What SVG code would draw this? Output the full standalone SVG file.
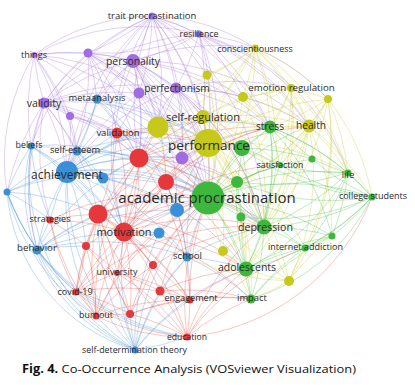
<svg xmlns="http://www.w3.org/2000/svg" width="415" height="385" viewBox="0 0 415 385">
<style>
.e path{fill:none;stroke-width:.8;stroke-opacity:.42}
.ep{stroke:#a674e0}.eb{stroke:#4a94dc}.er{stroke:#ec5548}.ey{stroke:#cccc2a}.eg{stroke:#4cc04c}
.p{fill:#a06de0}.b{fill:#3a8fd9}.r{fill:#e5383b}.y{fill:#c6c91a}.g{fill:#3db83d}
text{font-family:"Open Sans","Noto Sans",sans-serif;fill:#2a2a2a;text-anchor:middle}
.cap{text-anchor:start;fill:#111}
</style>
<rect width="415" height="385" fill="#fff"/>
<g id="connectors" class="e">
<g class="ep">
<path d="M152 16A250 250 0 0 1 88 53"/><path d="M152 16A250 250 0 0 1 133 61"/><path d="M44 103A250 250 0 0 1 152 16"/><path d="M152 16A250 250 0 0 1 176 88"/><path d="M152 16A250 250 0 0 1 139 93"/><path d="M152 16A250 250 0 0 1 158 127"/><path d="M152 16A250 250 0 0 1 208 143"/><path d="M139 158A250 250 0 0 1 152 16"/><path d="M67 172A250 250 0 0 1 152 16"/><path d="M152 16A250 250 0 0 1 208 198"/><path d="M152 16A250 250 0 0 1 182 158"/><path d="M152 16A250 250 0 0 1 199 34"/><path d="M152 16A200 200 0 0 1 255 48"/><path d="M152 16A250 250 0 0 1 207 75"/><path d="M124 232A250 250 0 0 1 152 16"/><path d="M152 16A250 250 0 0 1 264 227"/><path d="M152 16A250 250 0 0 1 270 127"/><path d="M97 99A250 250 0 0 1 152 16"/><path d="M31 146A220 220 0 0 1 152 16"/><path d="M34 55A200 200 0 0 1 152 16"/><path d="M152 16A300 300 0 0 1 309 126"/>
<path d="M199 34A250 250 0 0 1 133 61"/><path d="M199 34A250 250 0 0 1 88 53"/><path d="M44 103A250 250 0 0 1 199 34"/><path d="M199 34A250 250 0 0 1 176 88"/><path d="M199 34A250 250 0 0 1 208 143"/><path d="M199 34A250 250 0 0 1 208 198"/><path d="M199 34A250 250 0 0 1 270 127"/><path d="M199 34A250 250 0 0 1 309 126"/><path d="M199 34A250 250 0 0 1 203 117"/><path d="M199 34A250 250 0 0 1 243 97"/><path d="M199 34A250 250 0 0 1 291 88"/><path d="M34 55A220 220 0 0 1 199 34"/><path d="M199 34A200 200 0 0 1 328 99"/><path d="M199 34A220 220 0 0 1 348 173"/>
<path d="M34 55A250 250 0 0 1 88 53"/><path d="M34 55A250 250 0 0 1 133 61"/><path d="M44 103A250 250 0 0 1 34 55"/><path d="M34 55A250 250 0 0 1 70 116"/><path d="M34 55A250 250 0 0 1 67 172"/><path d="M31 146A250 250 0 0 1 34 55"/><path d="M34 55A250 250 0 0 1 77 151"/><path d="M34 55A250 250 0 0 1 139 158"/><path d="M34 55A250 250 0 0 1 208 198"/><path d="M34 55A250 250 0 0 1 208 143"/><path d="M7 192A200 200 0 0 1 34 55"/>
<path d="M88 53A250 250 0 0 1 133 61"/><path d="M44 103A250 250 0 0 1 88 53"/><path d="M88 53A250 250 0 0 1 139 93"/><path d="M88 53A250 250 0 0 1 97 99"/><path d="M88 53A250 250 0 0 1 67 172"/><path d="M88 53A250 250 0 0 1 208 198"/><path d="M88 53A250 250 0 0 1 208 143"/><path d="M88 53A250 250 0 0 1 158 127"/><path d="M88 53A250 250 0 0 1 139 158"/><path d="M88 53A250 250 0 0 1 117 133"/>
<path d="M44 103A250 250 0 0 1 133 61"/><path d="M133 61A250 250 0 0 1 176 88"/><path d="M133 61A250 250 0 0 1 139 93"/><path d="M133 61A250 250 0 0 1 203 117"/><path d="M133 61A250 250 0 0 1 158 127"/><path d="M133 61A250 250 0 0 1 208 143"/><path d="M133 61A250 250 0 0 1 208 198"/><path d="M133 61A250 250 0 0 1 139 158"/><path d="M67 172A250 250 0 0 1 133 61"/><path d="M124 232A250 250 0 0 1 133 61"/><path d="M133 61A250 250 0 0 1 270 127"/><path d="M133 61A250 250 0 0 1 309 126"/><path d="M133 61A250 250 0 0 1 264 227"/><path d="M133 61A250 250 0 0 1 243 97"/><path d="M133 61A250 250 0 0 1 255 48"/><path d="M133 61A250 250 0 0 1 182 158"/><path d="M133 61A250 250 0 0 1 177 210"/><path d="M97 99A250 250 0 0 1 133 61"/><path d="M133 61A250 250 0 0 1 166 182"/>
<path d="M176 88A250 250 0 0 1 203 117"/><path d="M176 88A250 250 0 0 1 158 127"/><path d="M176 88A250 250 0 0 1 208 143"/><path d="M176 88A250 250 0 0 1 208 198"/><path d="M176 88A250 250 0 0 1 270 127"/><path d="M176 88A250 250 0 0 1 242 148"/><path d="M176 88A250 250 0 0 1 264 227"/><path d="M176 88A250 250 0 0 1 291 88"/><path d="M176 88A250 250 0 0 1 243 97"/><path d="M139 158A250 250 0 0 1 176 88"/><path d="M67 172A250 250 0 0 1 176 88"/><path d="M44 103A250 250 0 0 1 176 88"/><path d="M176 88A250 250 0 0 1 309 126"/><path d="M176 88A250 250 0 0 1 182 158"/>
<path d="M44 103A250 250 0 0 1 139 93"/><path d="M139 93A250 250 0 0 1 158 127"/><path d="M139 93A250 250 0 0 1 208 143"/><path d="M139 93A250 250 0 0 1 208 198"/><path d="M139 93A250 250 0 0 1 139 158"/><path d="M67 172A250 250 0 0 1 139 93"/><path d="M139 93A250 250 0 0 1 117 133"/>
<path d="M44 103A250 250 0 0 1 70 116"/><path d="M44 103A250 250 0 0 1 97 99"/><path d="M31 146A250 250 0 0 1 44 103"/><path d="M44 103A250 250 0 0 1 77 151"/><path d="M44 103A250 250 0 0 1 67 172"/><path d="M44 103A250 250 0 0 1 139 158"/><path d="M44 103A250 250 0 0 1 208 198"/><path d="M44 103A250 250 0 0 1 208 143"/><path d="M44 103A250 250 0 0 1 117 133"/><path d="M7 192A250 250 0 0 1 44 103"/><path d="M37 250A250 250 0 0 1 44 103"/><path d="M44 103A250 250 0 0 1 98 214"/><path d="M50 220A250 250 0 0 1 44 103"/>
<path d="M70 116A250 250 0 0 1 67 172"/><path d="M70 116A250 250 0 0 1 139 158"/><path d="M70 116A250 250 0 0 1 117 133"/><path d="M70 116A250 250 0 0 1 208 198"/><path d="M70 116A250 250 0 0 1 77 151"/>
<path d="M182 158A250 250 0 0 1 208 198"/><path d="M182 158A250 250 0 0 1 208 143"/><path d="M139 158A250 250 0 0 1 182 158"/><path d="M182 158A250 250 0 0 1 166 182"/><path d="M182 158A250 250 0 0 1 237 182"/><path d="M182 158A250 250 0 0 1 270 127"/><path d="M182 158A250 250 0 0 1 264 227"/>
</g>
<g class="eb">
<path d="M31 146A250 250 0 0 1 67 172"/><path d="M31 146A250 250 0 0 1 77 151"/><path d="M7 192A250 250 0 0 1 31 146"/><path d="M37 250A250 250 0 0 1 31 146"/><path d="M50 220A250 250 0 0 1 31 146"/><path d="M31 146A250 250 0 0 1 98 214"/><path d="M31 146A250 250 0 0 1 208 198"/><path d="M31 146A250 250 0 0 1 124 232"/><path d="M135 350A200 200 0 0 1 31 146"/><path d="M135 350A170 170 0 0 1 31 146"/>
<path d="M7 192A250 250 0 0 1 67 172"/><path d="M37 250A250 250 0 0 1 7 192"/><path d="M7 192A250 250 0 0 1 50 220"/><path d="M7 192A250 250 0 0 1 98 214"/><path d="M135 350A180 180 0 0 1 7 192"/><path d="M7 192A250 250 0 0 1 208 198"/><path d="M7 192A250 250 0 0 1 77 151"/><path d="M76 292A250 250 0 0 1 7 192"/><path d="M187 337A220 220 0 0 1 7 192"/><path d="M96 316A200 200 0 0 1 7 192"/>
<path d="M67 172A250 250 0 0 1 208 198"/><path d="M67 172A250 250 0 0 1 208 143"/><path d="M67 172A250 250 0 0 1 158 127"/><path d="M67 172A250 250 0 0 1 139 158"/><path d="M67 172A250 250 0 0 1 98 214"/><path d="M67 172A250 250 0 0 1 124 232"/><path d="M67 172A250 250 0 0 1 103 178"/><path d="M67 172A250 250 0 0 1 177 210"/><path d="M67 172A250 250 0 0 1 187 257"/><path d="M37 250A250 250 0 0 1 67 172"/><path d="M50 220A250 250 0 0 1 67 172"/><path d="M67 172A250 250 0 0 1 86 246"/><path d="M67 172A250 250 0 0 1 77 151"/><path d="M97 99A250 250 0 0 1 67 172"/><path d="M67 172A250 250 0 0 1 117 133"/><path d="M67 172A250 250 0 0 1 264 227"/><path d="M67 172A250 250 0 0 1 246 269"/><path d="M67 172A250 250 0 0 1 270 127"/><path d="M67 172A250 250 0 0 1 182 158"/><path d="M135 350A250 250 0 0 1 67 172"/><path d="M96 316A250 250 0 0 1 67 172"/><path d="M67 172A250 250 0 0 1 203 117"/>
<path d="M77 151A250 250 0 0 1 208 198"/><path d="M77 151A250 250 0 0 1 208 143"/><path d="M77 151A250 250 0 0 1 139 158"/><path d="M77 151A250 250 0 0 1 264 227"/><path d="M77 151A250 250 0 0 1 103 178"/><path d="M77 151A250 250 0 0 1 124 232"/>
<path d="M97 99A250 250 0 0 1 208 198"/><path d="M97 99A250 250 0 0 1 208 143"/><path d="M97 99A250 250 0 0 1 158 127"/><path d="M97 99A250 250 0 0 1 139 158"/><path d="M97 99A250 250 0 0 1 177 210"/><path d="M97 99A250 250 0 0 1 77 151"/>
<path d="M37 250A250 250 0 0 1 98 214"/><path d="M37 250A250 250 0 0 1 124 232"/><path d="M37 250A250 250 0 0 1 208 198"/><path d="M135 350A200 200 0 0 1 37 250"/><path d="M37 250A250 250 0 0 1 50 220"/><path d="M76 292A250 250 0 0 1 37 250"/><path d="M37 250A250 250 0 0 1 86 246"/><path d="M37 250A250 250 0 0 1 187 257"/><path d="M37 250A250 250 0 0 1 177 210"/><path d="M187 337A250 250 0 0 1 37 250"/><path d="M96 316A250 250 0 0 1 37 250"/><path d="M37 250A250 250 0 0 1 139 158"/>
<path d="M187 337A250 250 0 0 1 135 350"/><path d="M135 350A250 250 0 0 1 124 232"/><path d="M135 350A250 250 0 0 1 160 291"/><path d="M135 350A250 250 0 0 1 190 300"/><path d="M135 350A250 250 0 0 1 130 314"/><path d="M135 350A250 250 0 0 1 96 316"/><path d="M135 350A250 250 0 0 1 159 233"/><path d="M135 350A250 250 0 0 1 187 257"/><path d="M135 350A250 250 0 0 1 208 198"/><path d="M135 350A250 250 0 0 1 117 273"/><path d="M135 350A250 250 0 0 1 98 214"/><path d="M135 350A250 250 0 0 1 246 269"/>
<path d="M177 210A250 250 0 0 1 208 198"/><path d="M177 210A250 250 0 0 1 208 143"/><path d="M177 210A250 250 0 0 1 187 257"/><path d="M124 232A250 250 0 0 1 177 210"/><path d="M177 210A250 250 0 0 1 166 182"/>
<path d="M159 233A250 250 0 0 1 208 198"/><path d="M159 233A250 250 0 0 1 187 257"/><path d="M124 232A250 250 0 0 1 159 233"/>
<path d="M187 257A250 250 0 0 1 208 198"/><path d="M187 257A250 250 0 0 1 246 269"/><path d="M187 257A250 250 0 0 1 264 227"/><path d="M187 257A250 250 0 0 1 208 143"/><path d="M160 291A250 250 0 0 1 187 257"/><path d="M187 257A250 250 0 0 1 190 300"/><path d="M187 257A250 250 0 0 1 251 299"/>
<path d="M103 178A250 250 0 0 1 208 198"/><path d="M103 178A250 250 0 0 1 139 158"/><path d="M103 178A250 250 0 0 1 124 232"/>
</g>
<g class="er">
<path d="M117 133A250 250 0 0 1 208 198"/><path d="M117 133A250 250 0 0 1 208 143"/><path d="M117 133A250 250 0 0 1 139 158"/><path d="M117 133A250 250 0 0 1 158 127"/><path d="M117 133A250 250 0 0 1 124 232"/><path d="M117 133A250 250 0 0 1 98 214"/>
<path d="M139 158A250 250 0 0 1 208 198"/><path d="M139 158A250 250 0 0 1 208 143"/><path d="M139 158A250 250 0 0 1 158 127"/><path d="M139 158A250 250 0 0 1 203 117"/><path d="M139 158A250 250 0 0 1 166 182"/><path d="M139 158A250 250 0 0 1 124 232"/><path d="M139 158A250 250 0 0 1 98 214"/><path d="M139 158A250 250 0 0 1 264 227"/><path d="M139 158A250 250 0 0 1 270 127"/><path d="M139 158A250 250 0 0 1 237 182"/><path d="M139 158A250 250 0 0 1 190 300"/><path d="M139 158A250 250 0 0 1 117 273"/><path d="M96 316A250 250 0 0 1 139 158"/><path d="M76 292A250 250 0 0 1 139 158"/>
<path d="M166 182A250 250 0 0 1 208 198"/><path d="M166 182A250 250 0 0 1 208 143"/><path d="M166 182A250 250 0 0 1 124 232"/><path d="M166 182A250 250 0 0 1 98 214"/><path d="M166 182A250 250 0 0 1 246 269"/><path d="M166 182A250 250 0 0 1 264 227"/><path d="M166 182A250 250 0 0 1 270 127"/><path d="M166 182A250 250 0 0 1 187 257"/>
<path d="M98 214A250 250 0 0 1 208 198"/><path d="M98 214A250 250 0 0 1 124 232"/><path d="M50 220A250 250 0 0 1 98 214"/><path d="M98 214A250 250 0 0 1 86 246"/><path d="M76 292A250 250 0 0 1 98 214"/><path d="M98 214A250 250 0 0 1 117 273"/><path d="M96 316A250 250 0 0 1 98 214"/><path d="M98 214A250 250 0 0 1 153 265"/><path d="M98 214A250 250 0 0 1 208 143"/><path d="M98 214A250 250 0 0 1 246 269"/><path d="M98 214A250 250 0 0 1 190 300"/><path d="M187 337A250 250 0 0 1 98 214"/><path d="M130 314A250 250 0 0 1 98 214"/>
<path d="M124 232A250 250 0 0 1 208 198"/><path d="M124 232A250 250 0 0 1 208 143"/><path d="M124 232A250 250 0 0 1 158 127"/><path d="M124 232A250 250 0 0 1 203 117"/><path d="M124 232A250 250 0 0 1 153 265"/><path d="M124 232A250 250 0 0 1 117 273"/><path d="M124 232A250 250 0 0 1 190 300"/><path d="M124 232A250 250 0 0 1 187 337"/><path d="M76 292A250 250 0 0 1 124 232"/><path d="M96 316A250 250 0 0 1 124 232"/><path d="M124 232A250 250 0 0 1 130 314"/><path d="M124 232A250 250 0 0 1 160 291"/><path d="M124 232A250 250 0 0 1 246 269"/><path d="M124 232A250 250 0 0 1 264 227"/><path d="M124 232A250 250 0 0 1 251 299"/><path d="M124 232A250 250 0 0 1 270 127"/><path d="M124 232A250 250 0 0 1 280 165"/><path d="M124 232A250 250 0 0 1 309 126"/>
<path d="M50 220A250 250 0 0 1 124 232"/><path d="M50 220A250 250 0 0 1 86 246"/><path d="M76 292A250 250 0 0 1 50 220"/><path d="M50 220A250 250 0 0 1 208 198"/><path d="M96 316A250 250 0 0 1 50 220"/>
<path d="M86 246A250 250 0 0 1 76 292"/><path d="M86 246A250 250 0 0 1 117 273"/><path d="M86 246A250 250 0 0 1 96 316"/><path d="M86 246A250 250 0 0 1 130 314"/><path d="M86 246A250 250 0 0 1 208 198"/>
<path d="M76 292A250 250 0 0 1 117 273"/><path d="M117 273A250 250 0 0 1 96 316"/><path d="M117 273A250 250 0 0 1 130 314"/><path d="M117 273A250 250 0 0 1 160 291"/><path d="M117 273A250 250 0 0 1 190 300"/><path d="M117 273A250 250 0 0 1 208 198"/><path d="M117 273A250 250 0 0 1 187 337"/>
<path d="M76 292A250 250 0 0 1 96 316"/><path d="M76 292A250 250 0 0 1 130 314"/><path d="M187 337A200 200 0 0 1 76 292"/><path d="M76 292A250 250 0 0 1 208 198"/><path d="M76 292A250 250 0 0 1 160 291"/><path d="M76 292A250 250 0 0 1 264 227"/>
<path d="M160 291A250 250 0 0 1 190 300"/><path d="M160 291A250 250 0 0 1 187 337"/><path d="M160 291A250 250 0 0 1 208 198"/><path d="M160 291A250 250 0 0 1 246 269"/><path d="M160 291A250 250 0 0 1 251 299"/>
<path d="M190 300A250 250 0 0 1 208 198"/><path d="M190 300A250 250 0 0 1 246 269"/><path d="M190 300A250 250 0 0 1 251 299"/><path d="M190 300A250 250 0 0 1 187 337"/><path d="M130 314A250 250 0 0 1 190 300"/><path d="M96 316A250 250 0 0 1 190 300"/>
<path d="M96 316A250 250 0 0 1 130 314"/><path d="M187 337A200 200 0 0 1 96 316"/><path d="M96 316A250 250 0 0 1 208 198"/><path d="M96 316A250 250 0 0 1 264 227"/>
<path d="M130 314A250 250 0 0 1 187 337"/><path d="M130 314A250 250 0 0 1 208 198"/><path d="M130 314A250 250 0 0 1 251 299"/>
<path d="M187 337A250 250 0 0 1 208 198"/><path d="M187 337A250 250 0 0 1 246 269"/><path d="M187 337A250 250 0 0 1 251 299"/><path d="M187 337A250 250 0 0 1 264 227"/><path d="M372 197A220 220 0 0 1 187 337"/><path d="M187 337A250 250 0 0 1 305 248"/>
<path d="M153 265A250 250 0 0 1 208 198"/><path d="M153 265A250 250 0 0 1 190 300"/><path d="M153 265A250 250 0 0 1 130 314"/>
</g>
<g class="ey">
<path d="M158 127A250 250 0 0 1 208 143"/><path d="M158 127A250 250 0 0 1 208 198"/><path d="M158 127A250 250 0 0 1 203 117"/><path d="M158 127A250 250 0 0 1 270 127"/><path d="M158 127A250 250 0 0 1 242 148"/><path d="M158 127A250 250 0 0 1 166 182"/>
<path d="M203 117A250 250 0 0 1 208 143"/><path d="M203 117A250 250 0 0 1 208 198"/><path d="M203 117A250 250 0 0 1 270 127"/><path d="M203 117A250 250 0 0 1 309 126"/><path d="M203 117A250 250 0 0 1 242 148"/><path d="M203 117A250 250 0 0 1 264 227"/><path d="M203 117A250 250 0 0 1 291 88"/><path d="M203 117A250 250 0 0 1 243 97"/><path d="M203 117A250 250 0 0 1 207 75"/><path d="M203 117A250 250 0 0 1 166 182"/><path d="M203 117A250 250 0 0 1 246 269"/><path d="M203 117A250 250 0 0 1 280 165"/>
<path d="M208 143A250 250 0 0 1 208 198"/><path d="M208 143A250 250 0 0 1 270 127"/><path d="M208 143A250 250 0 0 1 309 126"/><path d="M208 143A250 250 0 0 1 291 88"/><path d="M208 143A250 250 0 0 1 255 48"/><path d="M208 143A250 250 0 0 1 243 97"/><path d="M208 143A250 250 0 0 1 328 99"/><path d="M208 143A250 250 0 0 1 242 148"/><path d="M208 143A250 250 0 0 1 237 182"/><path d="M208 143A250 250 0 0 1 264 227"/><path d="M208 143A250 250 0 0 1 280 165"/><path d="M208 143A250 250 0 0 1 246 269"/><path d="M208 143A250 250 0 0 1 223 251"/><path d="M208 143A250 250 0 0 1 289 281"/><path d="M208 143A250 250 0 0 1 348 173"/><path d="M208 143A250 250 0 0 1 251 299"/><path d="M208 143A250 250 0 0 1 305 248"/>
<path d="M255 48A250 250 0 0 1 207 75"/><path d="M255 48A250 250 0 0 1 243 97"/><path d="M255 48A250 250 0 0 1 291 88"/><path d="M255 48A250 250 0 0 1 309 126"/><path d="M255 48A250 250 0 0 1 270 127"/><path d="M255 48A250 250 0 0 1 203 117"/><path d="M255 48A250 250 0 0 1 208 198"/><path d="M255 48A200 200 0 0 1 328 99"/><path d="M255 48A250 250 0 0 1 264 227"/><path d="M255 48A220 220 0 0 1 348 173"/><path d="M255 48A250 250 0 0 1 176 88"/><path d="M255 48A250 250 0 0 1 158 127"/>
<path d="M291 88A250 250 0 0 1 243 97"/><path d="M291 88A250 250 0 0 1 328 99"/><path d="M291 88A250 250 0 0 1 309 126"/><path d="M291 88A250 250 0 0 1 270 127"/><path d="M291 88A250 250 0 0 1 208 198"/><path d="M291 88A250 250 0 0 1 264 227"/><path d="M291 88A250 250 0 0 1 280 165"/><path d="M291 88A250 250 0 0 1 246 269"/><path d="M291 88A250 250 0 0 1 348 173"/>
<path d="M328 99A250 250 0 0 1 309 126"/><path d="M328 99A250 250 0 0 1 270 127"/><path d="M328 99A250 250 0 0 1 208 198"/><path d="M328 99A250 250 0 0 1 264 227"/><path d="M328 99A250 250 0 0 1 348 173"/><path d="M328 99A220 220 0 0 1 372 197"/><path d="M328 99A250 250 0 0 1 305 248"/><path d="M328 99A250 250 0 0 1 289 281"/><path d="M328 99A250 250 0 0 1 280 165"/>
<path d="M309 126A250 250 0 0 1 270 127"/><path d="M309 126A250 250 0 0 1 208 198"/><path d="M309 126A250 250 0 0 1 264 227"/><path d="M309 126A250 250 0 0 1 280 165"/><path d="M309 126A250 250 0 0 1 348 173"/><path d="M309 126A250 250 0 0 1 332 236"/><path d="M309 126A250 250 0 0 1 246 269"/><path d="M309 126A250 250 0 0 1 289 281"/><path d="M309 126A250 250 0 0 1 372 197"/><path d="M309 126A250 250 0 0 1 223 251"/>
<path d="M243 97A250 250 0 0 1 208 198"/><path d="M243 97A250 250 0 0 1 270 127"/><path d="M243 97A250 250 0 0 1 309 126"/><path d="M243 97A250 250 0 0 1 264 227"/>
<path d="M207 75A250 250 0 0 1 208 198"/><path d="M207 75A250 250 0 0 1 208 143"/><path d="M207 75A250 250 0 0 1 270 127"/>
<path d="M223 251A250 250 0 0 1 208 198"/><path d="M223 251A250 250 0 0 1 246 269"/><path d="M223 251A250 250 0 0 1 251 299"/><path d="M223 251A250 250 0 0 1 264 227"/>
<path d="M289 281A250 250 0 0 1 246 269"/><path d="M289 281A250 250 0 0 1 264 227"/><path d="M289 281A250 250 0 0 1 251 299"/><path d="M289 281A250 250 0 0 1 208 198"/><path d="M289 281A250 250 0 0 1 305 248"/><path d="M289 281A250 250 0 0 1 332 236"/><path d="M289 281A250 250 0 0 1 187 257"/>
</g>
<g class="eg">
<path d="M208 198A250 250 0 0 1 242 148"/><path d="M208 198A250 250 0 0 1 270 127"/><path d="M208 198A250 250 0 0 1 237 182"/><path d="M208 198A250 250 0 0 1 241 217"/><path d="M208 198A250 250 0 0 1 264 227"/><path d="M208 198A250 250 0 0 1 246 269"/><path d="M208 198A250 250 0 0 1 251 299"/><path d="M208 198A250 250 0 0 1 348 173"/><path d="M208 198A250 250 0 0 1 372 197"/><path d="M208 198A250 250 0 0 1 280 165"/><path d="M208 198A250 250 0 0 1 305 248"/><path d="M208 198A250 250 0 0 1 332 236"/><path d="M208 198A250 250 0 0 1 309 126"/><path d="M208 198A250 250 0 0 1 312 159"/>
<path d="M270 127A250 250 0 0 1 242 148"/><path d="M270 127A250 250 0 0 1 264 227"/><path d="M270 127A250 250 0 0 1 280 165"/><path d="M270 127A250 250 0 0 1 348 173"/><path d="M270 127A250 250 0 0 1 372 197"/><path d="M270 127A250 250 0 0 1 332 236"/><path d="M270 127A250 250 0 0 1 246 269"/><path d="M270 127A250 250 0 0 1 312 159"/>
<path d="M348 173A250 250 0 0 1 372 197"/><path d="M348 173A250 250 0 0 1 264 227"/><path d="M348 173A250 250 0 0 1 280 165"/><path d="M348 173A250 250 0 0 1 332 236"/><path d="M348 173A250 250 0 0 1 246 269"/><path d="M348 173A250 250 0 0 1 237 182"/><path d="M348 173A250 250 0 0 1 305 248"/><path d="M348 173A250 250 0 0 1 312 159"/>
<path d="M372 197A250 250 0 0 1 264 227"/><path d="M372 197A250 250 0 0 1 332 236"/><path d="M372 197A250 250 0 0 1 305 248"/><path d="M372 197A250 250 0 0 1 246 269"/><path d="M372 197A250 250 0 0 1 237 182"/><path d="M372 197A250 250 0 0 1 241 217"/><path d="M372 197A250 250 0 0 1 280 165"/><path d="M372 197A200 200 0 0 1 251 299"/><path d="M372 197A250 250 0 0 1 312 159"/><path d="M372 197A250 250 0 0 1 242 148"/>
<path d="M264 227A250 250 0 0 1 246 269"/><path d="M264 227A250 250 0 0 1 251 299"/><path d="M264 227A250 250 0 0 1 332 236"/><path d="M264 227A250 250 0 0 1 305 248"/><path d="M264 227A250 250 0 0 1 241 217"/><path d="M264 227A250 250 0 0 1 237 182"/><path d="M264 227A250 250 0 0 1 280 165"/><path d="M264 227A250 250 0 0 1 242 148"/>
<path d="M246 269A250 250 0 0 1 251 299"/><path d="M246 269A250 250 0 0 1 305 248"/><path d="M246 269A250 250 0 0 1 332 236"/><path d="M246 269A250 250 0 0 1 241 217"/><path d="M246 269A250 250 0 0 1 237 182"/>
<path d="M251 299A250 250 0 0 1 305 248"/><path d="M251 299A250 250 0 0 1 332 236"/><path d="M305 248A250 250 0 0 1 332 236"/>
<path d="M242 148A250 250 0 0 1 237 182"/><path d="M242 148A250 250 0 0 1 280 165"/><path d="M242 148A250 250 0 0 1 312 159"/><path d="M237 182A250 250 0 0 1 241 217"/><path d="M237 182A250 250 0 0 1 280 165"/>
</g>
</g>
<g id="nodes">
<g id="n-u1"><circle class="p" cx="88" cy="53" r="4.5"/></g>
<g id="n-u2"><circle class="p" cx="139" cy="93" r="5.5"/></g>
<g id="n-u3"><circle class="p" cx="70" cy="116" r="4"/></g>
<g id="n-u4"><circle class="p" cx="182" cy="158" r="6.5"/></g>
<g id="n-u5"><circle class="b" cx="103" cy="178" r="5.5"/></g>
<g id="n-u6"><circle class="b" cx="7" cy="192" r="3.5"/></g>
<g id="n-u7"><circle class="b" cx="177" cy="210" r="7"/></g>
<g id="n-u8"><circle class="b" cx="159" cy="233" r="5.5"/></g>
<g id="n-u9"><circle class="r" cx="139" cy="158" r="9.5"/></g>
<g id="n-u10"><circle class="r" cx="166" cy="182" r="8"/></g>
<g id="n-u11"><circle class="r" cx="98" cy="214" r="9.5"/></g>
<g id="n-u12"><circle class="r" cx="86" cy="246" r="4"/></g>
<g id="n-u13"><circle class="r" cx="153" cy="265" r="4"/></g>
<g id="n-u14"><circle class="r" cx="160" cy="291" r="4.5"/></g>
<g id="n-u15"><circle class="r" cx="130" cy="314" r="4"/></g>
<g id="n-u16"><circle class="y" cx="207" cy="75" r="4.5"/></g>
<g id="n-u17"><circle class="y" cx="243" cy="97" r="5"/></g>
<g id="n-u18"><circle class="y" cx="328" cy="99" r="4"/></g>
<g id="n-u19"><circle class="y" cx="158" cy="127" r="10.5"/></g>
<g id="n-u20"><circle class="y" cx="223" cy="251" r="5"/></g>
<g id="n-u21"><circle class="y" cx="289" cy="281" r="5"/></g>
<g id="n-u22"><circle class="g" cx="242" cy="148" r="8"/></g>
<g id="n-u23"><circle class="g" cx="312" cy="159" r="3.5"/></g>
<g id="n-u24"><circle class="g" cx="237" cy="182" r="6"/></g>
<g id="n-u25"><circle class="g" cx="241" cy="217" r="4.5"/></g>
<g id="n-u26"><circle class="g" cx="332" cy="236" r="3.5"/></g>
<g id="n-trait-procrastination"><circle class="p" cx="152" cy="16" r="3.5"/><text x="152" y="19.3" font-size="9.5">trait procrastination</text></g>
<g id="n-resilience"><circle class="p" cx="199" cy="34" r="3.5"/><text x="199" y="37.1" font-size="8.8">resilience</text></g>
<g id="n-things"><circle class="p" cx="34" cy="55" r="3"/><text x="34" y="58.2" font-size="9.1">things</text></g>
<g id="n-personality"><circle class="p" cx="133" cy="61" r="7"/><text x="133" y="64.6" font-size="10.4">personality</text></g>
<g id="n-perfectionism"><circle class="p" cx="176" cy="88" r="5.5"/><text x="177" y="91.6" font-size="10.2">perfectionism</text></g>
<g id="n-validity"><circle class="p" cx="44" cy="103" r="5.5"/><text x="44" y="106.7" font-size="10.5">validity</text></g>
<g id="n-metaanalysis"><circle class="b" cx="97" cy="99" r="4.5"/><text x="97" y="101.3" font-size="9.4">metaanalysis</text></g>
<g id="n-beliefs"><circle class="b" cx="31" cy="146" r="3.5"/><text x="29" y="148.1" font-size="8.8">beliefs</text></g>
<g id="n-self-esteem"><circle class="b" cx="77" cy="151" r="4.5"/><text x="75" y="153.3" font-size="9.3">self-esteem</text></g>
<g id="n-behavior"><circle class="b" cx="37" cy="250" r="4.5"/><text x="37" y="251.4" font-size="9.7">behavior</text></g>
<g id="n-school"><circle class="b" cx="187" cy="257" r="4.5"/><text x="187.5" y="259.4" font-size="9.6">school</text></g>
<g id="n-self-determination-theory"><circle class="b" cx="135" cy="350" r="3.5"/><text x="134.5" y="353.1" font-size="8.8">self-determination theory</text></g>
<g id="n-validation"><circle class="r" cx="117" cy="133" r="5.5"/><text x="118" y="136.3" font-size="9.5">validation</text></g>
<g id="n-strategies"><circle class="r" cx="50" cy="220" r="3.5"/><text x="50" y="222.2" font-size="9">strategies</text></g>
<g id="n-university"><circle class="r" cx="117" cy="273" r="3"/><text x="117" y="275.2" font-size="9">university</text></g>
<g id="n-covid-19"><circle class="r" cx="76" cy="292" r="3.5"/><text x="75" y="295.2" font-size="9">covid-19</text></g>
<g id="n-engagement"><circle class="r" cx="190" cy="300" r="3.5"/><text x="191" y="301.2" font-size="9.1">engagement</text></g>
<g id="n-burnout"><circle class="r" cx="96" cy="316" r="3.5"/><text x="96" y="318.1" font-size="8.9">burnout</text></g>
<g id="n-education"><circle class="r" cx="187" cy="337" r="3.5"/><text x="187" y="340" font-size="8.6">education</text></g>
<g id="n-conscientiousness"><circle class="y" cx="255" cy="48" r="3.5"/><text x="255" y="52.1" font-size="8.9">conscientiousness</text></g>
<g id="n-emotion-regulation"><circle class="y" cx="291" cy="88" r="4"/><text x="291.5" y="91.4" font-size="9.7">emotion regulation</text></g>
<g id="n-health"><circle class="y" cx="309" cy="126" r="6.5"/><text x="311" y="128.6" font-size="10.2">health</text></g>
<g id="n-stress"><circle class="g" cx="270" cy="127" r="6.5"/><text x="270" y="129.6" font-size="10.2">stress</text></g>
<g id="n-satisfaction"><circle class="g" cx="280" cy="165" r="3"/><text x="280" y="168.1" font-size="8.8">satisfaction</text></g>
<g id="n-life"><circle class="g" cx="348" cy="173" r="3.5"/><text x="348" y="178.1" font-size="9">life</text></g>
<g id="n-college-students"><circle class="g" cx="372" cy="197" r="3.5"/><text x="373" y="199.2" font-size="9">college students</text></g>
<g id="n-internet-addiction"><circle class="g" cx="305" cy="248" r="3.5"/><text x="305.5" y="250.2" font-size="9">internet addiction</text></g>
<g id="n-impact"><circle class="g" cx="251" cy="299" r="4.5"/><text x="252" y="301.3" font-size="9.4">impact</text></g>
<g id="n-depression"><circle class="g" cx="264" cy="227" r="7.5"/><text x="265.5" y="230.7" font-size="10.6">depression</text></g>
<g id="n-adolescents"><circle class="g" cx="246" cy="269" r="7.5"/><text x="247" y="270.7" font-size="10.5">adolescents</text></g>
<g id="n-motivation"><circle class="r" cx="124" cy="232" r="9.5"/><text x="124" y="235.9" font-size="11">motivation</text></g>
<g id="n-achievement"><circle class="b" cx="67" cy="172" r="11"/><text x="67" y="179.2" font-size="12">achievement</text></g>
<g id="n-self-regulation"><circle class="y" cx="203" cy="117" r="7"/><text x="203" y="120.9" font-size="11">self-regulation</text></g>
<g id="n-performance"><circle class="y" cx="208" cy="143" r="14"/><text x="209" y="149.7" font-size="13.5">performance</text></g>
<g id="n-academic-procrastination"><circle class="g" cx="208" cy="198" r="16.5"/><text x="207" y="203.2" font-size="15">academic procrastination</text></g>
</g>
<text class="cap" x="22" y="373" font-size="11.5" textLength="334" lengthAdjust="spacingAndGlyphs"><tspan font-weight="bold">Fig. 4.</tspan> Co-Occurrence Analysis (VOSviewer Visualization)</text>
</svg>
